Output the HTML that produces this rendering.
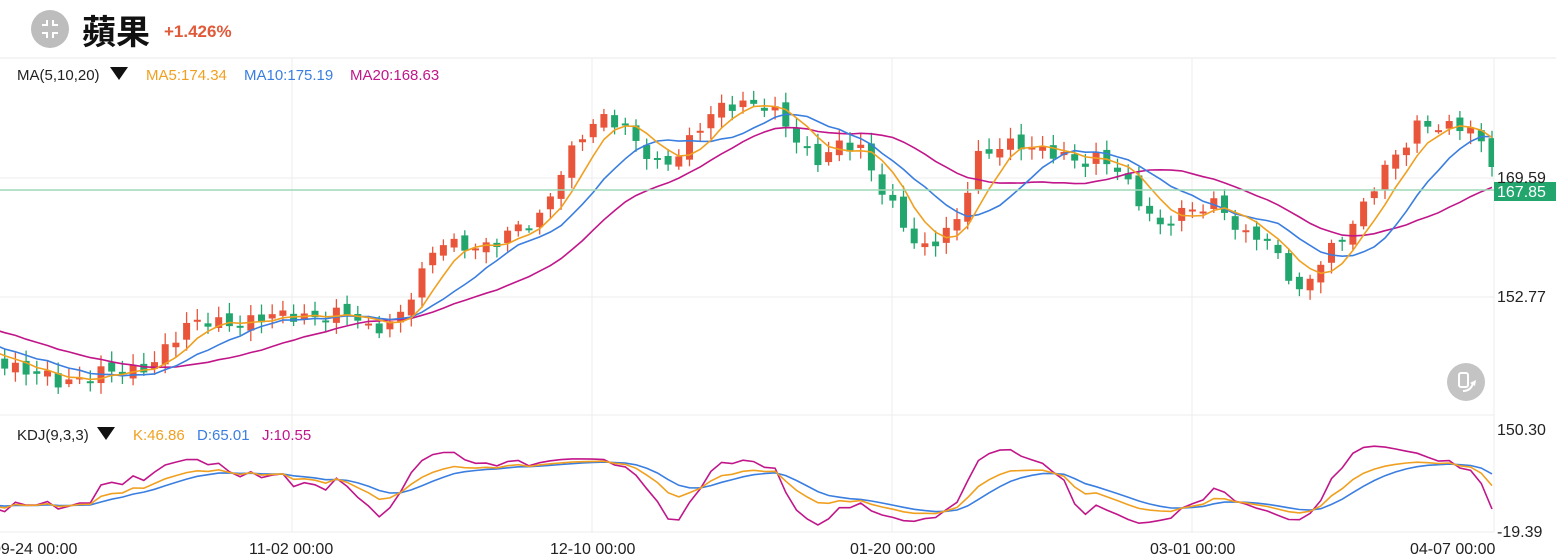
<!DOCTYPE html>
<html><head><meta charset="utf-8"><style>
body{margin:0;width:1556px;height:559px;overflow:hidden;background:#fff;font-family:"Liberation Sans","Noto Sans CJK TC",sans-serif;}
</style></head><body>
<svg id="s" width="1556" height="559" xmlns="http://www.w3.org/2000/svg" style="position:absolute;left:0;top:0">
<circle cx="50" cy="29" r="19" fill="#bdbdbd"/>
<g stroke="#fff" stroke-width="2" fill="none"><path d="M42 25h5v-5M58 25h-5v-5M42 33h5v5M58 33h-5v5"/></g>
<text x="82" y="44" font-size="34" font-weight="bold" fill="#111" font-family="Liberation Sans,Noto Sans CJK TC,sans-serif">蘋果</text>
<text x="164" y="37" font-size="17" font-weight="bold" fill="#e05a3a">+1.426%</text>
<line x1="0" y1="58" x2="1556" y2="58" stroke="#e8e8e8"/>
<g stroke="#ececec" stroke-width="1">
<line x1="292" y1="58" x2="292" y2="532"/><line x1="592" y1="58" x2="592" y2="532"/>
<line x1="892" y1="58" x2="892" y2="532"/><line x1="1192" y1="58" x2="1192" y2="532"/>
<line x1="1494" y1="58" x2="1494" y2="532"/>
<line x1="0" y1="178" x2="1494" y2="178"/><line x1="0" y1="297" x2="1494" y2="297"/>
<line x1="0" y1="415" x2="1494" y2="415"/><line x1="0" y1="532" x2="1494" y2="532"/>
</g>
<g id="c"></g>
<line x1="0" y1="190" x2="1494" y2="190" stroke="#9ed8b8" stroke-width="1.5"/>
<rect x="1494" y="182" width="62" height="19" fill="#22a66e"/>
<text x="1497" y="197" font-size="16" fill="#fff">167.85</text>
<g font-size="16" fill="#222">
<text x="1497" y="183">169.59</text><text x="1497" y="302">152.77</text>
<text x="1497" y="435">150.30</text><text x="1497" y="537">-19.39</text>
<text x="-8" y="554">09-24 00:00</text><text x="249" y="554">11-02 00:00</text>
<text x="550" y="554">12-10 00:00</text><text x="850" y="554">01-20 00:00</text>
<text x="1150" y="554">03-01 00:00</text><text x="1410" y="554">04-07 00:00</text>
</g>
<g font-size="15">
<text x="17" y="80" fill="#222">MA(5,10,20)</text><path d="M110 67h18l-9 13z" fill="#111"/>
<text x="146" y="80" fill="#f0a020">MA5:174.34</text>
<text x="244" y="80" fill="#3a7ee0">MA10:175.19</text>
<text x="350" y="80" fill="#c0168a">MA20:168.63</text>
<text x="17" y="440" fill="#222">KDJ(9,3,3)</text><path d="M97 427h18l-9 13z" fill="#111"/>
<text x="133" y="440" fill="#f0a020">K:46.86</text>
<text x="197" y="440" fill="#3a7ee0">D:65.01</text>
<text x="262" y="440" fill="#c0168a">J:10.55</text>
</g>
<circle cx="1466" cy="382" r="19" fill="#c4c4c4"/>
<rect x="1459" y="373" width="9" height="14" rx="2" fill="none" stroke="#fff" stroke-width="2"/>
<path d="M1463 391q8 0 10-8" stroke="#fff" stroke-width="2" fill="none"/><path d="M1470 383l6-3-1 6z" fill="#fff"/>
</svg>
<script>
var kp=[[0,360],[40,375],[60,385],[100,370],[130,375],[150,365],[170,340],[190,325],[250,320],[300,315],[350,315],[370,330],[400,315],[420,280],[440,240],[470,245],[490,250],[520,225],[540,215],[560,175],[580,140],[600,115],[620,120],[640,150],[660,170],[680,150],[700,125],[720,110],[760,100],[780,115],[800,150],[820,160],[840,140],[860,150],[880,190],[900,215],[920,250],[940,240],[960,220],[975,155],[1000,145],[1040,150],[1060,150],[1080,165],[1100,160],[1120,170],[1140,200],[1160,230],[1180,215],[1200,205],[1220,200],[1240,240],[1260,235],[1280,255],[1300,295],[1320,265],[1340,240],[1360,210],[1380,175],[1400,155],[1420,120],[1440,125],[1470,130],[1490,160]];
function yAt(x){for(var i=1;i<kp.length;i++){if(x<=kp[i][0]){var a=kp[i-1],b=kp[i];return a[1]+(b[1]-a[1])*(x-a[0])/(b[0]-a[0]);}}return kp[kp.length-1][1];}
var step=10.7,N=141,x0=-6,cl=[],op=[],hi=[],lo=[],xs=[];
var pre=25;
for(var i=-pre;i<N;i++){var x=x0+i*step;var y=i<0?280+(i+pre)/pre*80:yAt(x);y+=Math.sin(i*2.3)*6+Math.sin(i*0.9)*3;
 xs.push(x);cl.push(y);}
for(var i=0;i<cl.length;i++){var o=i>0?cl[i-1]+Math.sin(i*1.7)*4:cl[i];op.push(o);hi.push(Math.min(o,cl[i])-3-Math.abs(Math.sin(i*3.1))*8);lo.push(Math.max(o,cl[i])+3+Math.abs(Math.cos(i*2.7))*8);}
var g='';
for(var i=pre;i<cl.length;i++){var x=xs[i];var up=cl[i]<op[i];var col=up?'#e8553a':'#22a66e';
 var t=Math.min(op[i],cl[i]),h=Math.max(2,Math.abs(op[i]-cl[i]));
 g+='<line x1="'+x+'" y1="'+hi[i]+'" x2="'+x+'" y2="'+lo[i]+'" stroke="'+col+'" stroke-width="1.3"/>';
 g+='<rect x="'+(x-3.5)+'" y="'+t+'" width="7" height="'+h+'" fill="'+col+'"/>';}
function ma(n){var r=[];for(var i=0;i<cl.length;i++){var s=0,c=0;for(var j=Math.max(0,i-n+1);j<=i;j++){s+=cl[j];c++;}r.push(s/c);}return r;}
function pl(arr,col,f){var p='';for(var i=pre;i<arr.length;i++)p+=(p?'L':'M')+xs[i].toFixed(1)+' '+(f?f(arr[i]):arr[i]).toFixed(1);return '<path d="'+p+'" fill="none" stroke="'+col+'" stroke-width="1.6"/>';}
g+=pl(ma(20),'#c0168a')+pl(ma(10),'#3a7ee0')+pl(ma(5),'#f0a020');
var K=[],D=[],J=[],k=50,d=50;
for(var i=0;i<cl.length;i++){var hh=-1e9,ll=1e9;for(var j=Math.max(0,i-8);j<=i;j++){hh=Math.max(hh,-hi[j]);ll=Math.min(ll,-lo[j]);}
 var rsv=hh==ll?50:(-cl[i]-ll)/(hh-ll)*100;k=2/3*k+rsv/3;d=2/3*d+k/3;K.push(k);D.push(d);J.push(3*k-2*d);}
var f=function(v){return 428+(150.3-v)/169.69*103;};
g+=pl(J,'#c0168a',f)+pl(D,'#3a7ee0',f)+pl(K,'#f0a020',f);
var c=document.getElementById('c');c.innerHTML=g;
c.setAttribute('clip-path','url(#cp)');
document.getElementById('s').insertAdjacentHTML('afterbegin','<defs><clipPath id="cp"><rect x="0" y="59" width="1494" height="473"/></clipPath></defs>');
</script>
</body></html>
